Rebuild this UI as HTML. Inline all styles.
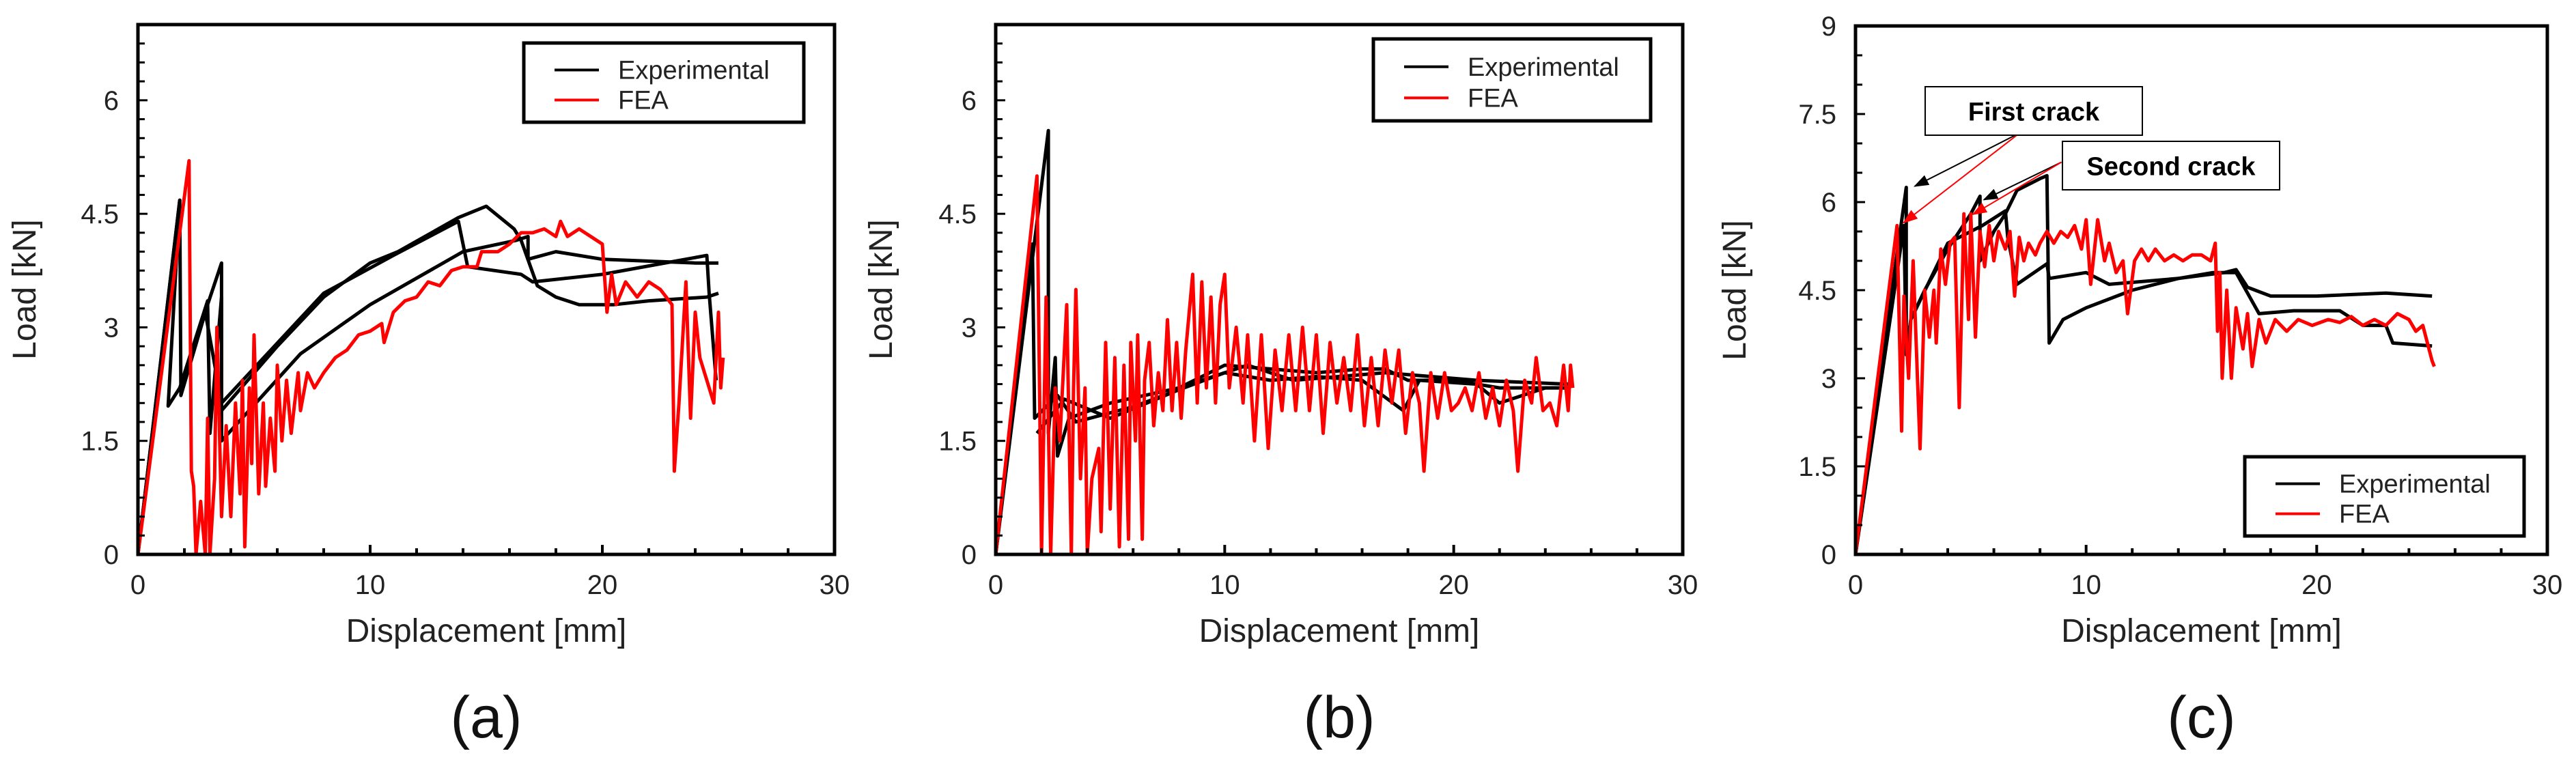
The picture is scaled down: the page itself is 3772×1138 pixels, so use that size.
<!DOCTYPE html>
<html><head><meta charset="utf-8"><style>
html,body{margin:0;padding:0;background:#fff;}
svg{display:block;font-family:"Liberation Sans",sans-serif;}
</style></head><body>
<svg id="fig" width="3772" height="1138" viewBox="0 0 3772 1138"></svg>
<script>
// ---------- Panel (a) data ----------
const aExp1 = [[0,0],[1.8,4.68],[1.85,2.1],[3.0,3.3],[3.6,3.85],[3.6,1.9],[6,2.75],[8,3.4],[10,3.85],[11.2,4.0],[13.8,4.45],[15,4.6],[16.2,4.3],[16.5,4.15],[17.2,3.55],[18,3.4],[19,3.3],[20.5,3.3],[22,3.35],[24.5,3.4],[25,3.45]];
const aExp2 = [[0,0],[1.8,4.68],[1.3,1.96],[1.8,2.2],[3.0,3.35],[3.1,1.6],[3.6,3.4],[3.6,1.5],[7,2.65],[10,3.3],[14,4.0],[16.3,4.15],[16.8,4.2],[16.8,3.9],[18,4.0],[20,3.9],[24,3.85],[25,3.85]];
const aExp3 = [[1.9,2.2],[2.9,3.2],[3.6,2.0],[8,3.45],[11,3.95],[13.8,4.4],[14.2,3.8],[16.5,3.7],[17,3.6],[20,3.7],[24.5,3.95],[24.6,3.45],[24.9,2.3]];
const aFea = [[0,0],[2.2,5.2],[2.3,1.1],[2.4,0.9],[2.5,0],[2.7,0.7],[2.9,0],[3.0,1.8],[3.1,0],[3.3,1.0],[3.4,3.0],[3.6,0.5],[3.8,1.7],[4.0,0.5],[4.2,2.0],[4.4,0.8],[4.5,2.3],[4.6,0.1],[4.8,2.2],[4.9,1.2],[5.0,2.9],[5.2,0.8],[5.4,2.0],[5.5,0.9],[5.7,1.8],[5.9,1.1],[6.0,2.5],[6.2,1.5],[6.4,2.3],[6.6,1.6],[6.9,2.4],[7.0,1.9],[7.3,2.4],[7.6,2.2],[8,2.4],[8.5,2.6],[9,2.7],[9.5,2.9],[10,2.95],[10.5,3.05],[10.6,2.8],[11,3.2],[11.5,3.35],[12,3.4],[12.5,3.6],[13,3.55],[13.5,3.75],[14,3.8],[14.6,3.8],[14.8,4.0],[15.5,4.0],[16,4.1],[16.5,4.25],[17,4.25],[17.5,4.3],[18,4.2],[18.2,4.4],[18.5,4.2],[19,4.3],[19.5,4.2],[20,4.1],[20.2,3.2],[20.4,3.7],[20.6,3.3],[21,3.6],[21.5,3.4],[22,3.6],[22.5,3.5],[23,3.3],[23.1,1.1],[23.3,2.0],[23.6,3.6],[23.8,1.8],[24,3.2],[24.2,2.6],[24.5,2.3],[24.8,2.0],[25,3.2],[25.1,2.2],[25.2,2.6]];
// ---------- Panel (b) data ----------
const bExp1 = [[0,0],[2.3,5.6],[2.3,1.6],[2.6,2.6],[2.7,1.3],[3.2,1.8],[5,2.0],[8,2.2],[10,2.5],[12,2.45],[14,2.4],[16,2.45],[17,2.45],[18,2.3],[20,2.3],[22,2.2],[25,2.2]];
const bExp2 = [[0,0],[1.6,4.1],[1.7,1.8],[2.7,2.1],[3.5,1.75],[6,1.95],[10,2.4],[12,2.3],[14,2.35],[16,2.3],[17.8,1.9],[18.5,2.3],[21,2.25],[22,2.0],[24,2.2],[25,2.2]];
const bExp3 = [[1.8,1.6],[3,2.05],[5,1.8],[9,2.3],[11,2.5],[13,2.3],[17,2.4],[21,2.3],[25,2.25]];
const bFea = [[0,0],[1.8,5.0],[2.0,0],[2.2,3.4],[2.4,0],[2.6,2.2],[2.8,1.5],[3.1,3.3],[3.3,0],[3.4,2.2],[3.5,3.5],[3.7,1.0],[3.9,2.2],[4.0,0],[4.2,1.0],[4.5,1.4],[4.6,0.3],[4.8,2.8],[5.0,0.6],[5.2,2.6],[5.4,0.1],[5.6,2.5],[5.8,0.2],[5.9,2.8],[6.1,1.5],[6.2,2.9],[6.4,0.2],[6.5,2.3],[6.7,2.8],[6.9,1.7],[7.1,2.4],[7.3,1.9],[7.5,3.1],[7.7,1.9],[7.9,2.8],[8.1,1.8],[8.3,2.7],[8.6,3.7],[8.8,2.0],[9.0,3.6],[9.2,2.2],[9.4,3.4],[9.6,2.0],[9.8,3.3],[10.0,3.7],[10.2,2.2],[10.5,3.0],[10.8,2.0],[11.0,2.9],[11.3,1.5],[11.6,2.9],[11.9,1.4],[12.2,2.7],[12.5,1.9],[12.8,2.9],[13.1,1.9],[13.4,3.0],[13.7,1.9],[14.0,2.9],[14.3,1.6],[14.6,2.8],[14.9,2.0],[15.2,2.6],[15.5,1.9],[15.8,2.9],[16.1,1.7],[16.4,2.6],[16.7,1.7],[17.0,2.7],[17.3,2.0],[17.6,2.7],[17.9,1.6],[18.2,2.4],[18.5,2.0],[18.7,1.1],[19.0,2.4],[19.3,1.8],[19.6,2.4],[19.9,1.9],[20.2,2.0],[20.5,2.2],[20.8,1.9],[21.1,2.4],[21.4,1.8],[21.7,2.2],[22.0,1.7],[22.3,2.3],[22.6,1.9],[22.8,1.1],[23.1,2.3],[23.4,2.0],[23.6,2.6],[23.9,1.9],[24.2,2.0],[24.5,1.7],[24.8,2.5],[25,1.9],[25.1,2.5],[25.2,2.2]];
// ---------- Panel (c) data ----------
const cExp1 = [[0,0],[2.2,6.25],[2.2,3.4],[2.4,4.0],[3.0,4.5],[4.0,5.2],[5.0,5.8],[5.4,6.1],[5.4,5.0],[6.0,5.5],[6.5,5.8],[7.0,6.2],[8.0,6.4],[8.3,6.45],[8.4,3.6],[9,4.0],[10,4.2],[12,4.5],[14,4.7],[16,4.8],[16.5,4.85],[17,4.55],[18,4.4],[20,4.4],[23,4.45],[25,4.4]];
const cExp2 = [[0,0],[2.1,5.6],[2.2,3.4],[2.4,4.0],[4,5.3],[5.5,5.6],[6.5,5.85],[6.6,5.4],[7,4.6],[8.3,4.95],[8.4,4.7],[10,4.8],[11,4.6],[14,4.7],[15.5,4.8],[16.5,4.8],[17.5,4.1],[19,4.15],[21,4.15],[22,3.9],[23,3.9],[23.3,3.6],[25,3.55]];
const cFea = [[0,0],[1.8,5.6],[2.0,2.1],[2.1,4.4],[2.3,3.0],[2.5,5.0],[2.8,1.8],[3.0,4.5],[3.2,3.7],[3.4,4.5],[3.5,3.6],[3.7,5.2],[3.9,4.6],[4.1,5.3],[4.3,5.4],[4.5,2.5],[4.7,5.8],[4.9,4.0],[5.0,5.8],[5.2,3.7],[5.4,5.5],[5.6,4.9],[5.8,5.6],[6.0,5.0],[6.2,5.5],[6.5,5.2],[6.7,5.5],[6.9,4.4],[7.1,5.4],[7.3,5.0],[7.5,5.3],[7.8,5.1],[8.0,5.3],[8.3,5.5],[8.6,5.3],[8.9,5.5],[9.2,5.4],[9.5,5.6],[9.8,5.2],[10.0,5.7],[10.2,4.6],[10.5,5.7],[10.8,5.0],[11.0,5.3],[11.3,4.8],[11.6,5.0],[11.8,4.1],[12.1,5.0],[12.4,5.2],[12.7,5.0],[13.0,5.2],[13.4,5.0],[13.8,5.1],[14.2,5.0],[14.6,5.1],[15.0,5.1],[15.4,5.0],[15.6,5.3],[15.7,3.8],[15.8,4.8],[15.9,3.0],[16.1,4.5],[16.3,3.0],[16.5,4.2],[16.8,3.5],[17.0,4.1],[17.2,3.2],[17.5,4.0],[17.8,3.6],[18.2,4.0],[18.7,3.8],[19.2,4.0],[19.8,3.9],[20.5,4.0],[21.0,3.95],[21.5,4.05],[22,3.9],[22.5,4.0],[23,3.9],[23.5,4.1],[24,4.0],[24.3,3.8],[24.6,3.9],[25,3.3],[25.1,3.2]];
const aYTicks = ["0","1.5","3","4.5","6"];
const cYTicks = ["0","1.5","3","4.5","6","7.5","9"];
const xTicks = ["0","10","20","30"];

const NS="http://www.w3.org/2000/svg";
const svg=document.getElementById('fig');
function mk(tag,attrs,parent){const e=document.createElementNS(NS,tag);for(const k in attrs)e.setAttribute(k,attrs[k]);(parent||svg).appendChild(e);return e;}

function panel(cfg){
  const g=mk('g',{});
  
  
  const L=cfg.L,R=cfg.R,T=cfg.T,B=cfg.B;
  const sx=v=>L+(v/30)*(R-L);
  const sy=v=>B-(v/cfg.ymax)*(B-T);
  const clip='clip-'+cfg.name;
  const cp=mk('clipPath',{id:clip},g);mk('rect',{x:L,y:T,width:R-L,height:B-T},cp);
  cfg.series.forEach(s=>{
    const p=mk('polyline',{points:s.d.map(q=>sx(q[0]).toFixed(1)+','+sy(q[1]).toFixed(1)).join(' '),fill:'none',stroke:s.c,'stroke-width':5,'stroke-linejoin':'round','clip-path':'url(#'+clip+')'},g);
    
    
  });
  const fr=mk('rect',{x:L,y:T,width:R-L,height:B-T,fill:'none',stroke:'#000','stroke-width':5},g);
  
  
  for(let v=0;v<=30;v+=2){mk('line',{x1:sx(v),x2:sx(v),y1:B,y2:B-(v%10==0?14:9),stroke:'#000','stroke-width':4},g);}
  for(let v=0;v<=cfg.ymax+1e-9;v+=cfg.ystep){const big=Math.abs((v/1.5)-Math.round(v/1.5))<1e-6;mk('line',{x1:L,x2:L+(big?14:10),y1:sy(v),y2:sy(v),stroke:'#000','stroke-width':3},g);}
  xTicks.forEach(t=>{const e=mk('text',{x:sx(+t),y:B+58,'text-anchor':'middle','font-size':40,fill:'#222'},g);e.textContent=t;
    });
  cfg.yt.forEach(t=>{const e=mk('text',{x:L-28,y:sy(+t)+14,'text-anchor':'end','font-size':40,fill:'#222'},g);e.textContent=t;
    });
  let e=mk('text',{x:(L+R)/2,y:B+128,'text-anchor':'middle','font-size':48,fill:'#222'},g);e.textContent='Displacement [mm]';
  
  e=mk('text',{x:0,y:0,'text-anchor':'middle','font-size':48,fill:'#222',transform:`translate(${cfg.ytx},${(T+B)/2}) rotate(-90)`},g);e.textContent='Load [kN]';
  
  e=mk('text',{x:(L+R)/2,y:1080,'text-anchor':'middle','font-size':86,fill:'#111'},g);e.textContent=cfg.label;
  
  const lg=mk('g',{},g);
  
  
  const [lx,ly,lw,lh]=cfg.leg;
  mk('rect',{x:lx,y:ly,width:lw,height:lh,fill:'#fff',stroke:'#000','stroke-width':5},lg);
  mk('line',{x1:lx+45,x2:lx+110,y1:ly+lh*0.34,y2:ly+lh*0.34,stroke:'#000','stroke-width':4},lg);
  mk('line',{x1:lx+45,x2:lx+110,y1:ly+lh*0.72,y2:ly+lh*0.72,stroke:'#f00','stroke-width':4},lg);
  e=mk('text',{x:lx+138,y:ly+lh*0.34+13,'font-size':38,fill:'#222'},lg);e.textContent='Experimental';
  
  e=mk('text',{x:lx+138,y:ly+lh*0.72+13,'font-size':38,fill:'#222'},lg);e.textContent='FEA';
  
  return {sx,sy,g};
}

panel({name:'panel-a',L:202,R:1222,T:36,B:812,ymax:7,ystep:0.25,yt:aYTicks,ytx:52,label:'(a)',leg:[767,63,410,116],
  series:[{d:aExp1,c:'#000',n:'experimental-curve-1'},{d:aExp2,c:'#000',n:'experimental-curve-2'},{d:aExp3,c:'#000',n:'experimental-curve-3'},{d:aFea,c:'#f00',n:'fea-curve'}]});
panel({name:'panel-b',L:1458,R:2464,T:36,B:812,ymax:7,ystep:0.25,yt:aYTicks,ytx:1306,label:'(b)',leg:[2011,57,406,120],
  series:[{d:bExp1,c:'#000',n:'experimental-curve-1'},{d:bExp2,c:'#000',n:'experimental-curve-2'},{d:bExp3,c:'#000',n:'experimental-curve-3'},{d:bFea,c:'#f00',n:'fea-curve'}]});
const pc=panel({name:'panel-c',L:2717,R:3730,T:38,B:812,ymax:9,ystep:0.5,yt:cYTicks,ytx:2556,label:'(c)',leg:[3287,669,409,116],
  series:[{d:cExp1,c:'#000',n:'experimental-curve-1'},{d:cExp2,c:'#000',n:'experimental-curve-2'},{d:cFea,c:'#f00',n:'fea-curve'}]});

const defs=mk('defs',{});
['k','r'].forEach(c=>{const m=mk('marker',{id:'ar-'+c,markerWidth:22,markerHeight:16,refX:20,refY:8,orient:'auto',markerUnits:'userSpaceOnUse'},defs);
  mk('path',{d:'M0,0 L22,8 L0,16 z',fill:c=='k'?'#000':'#f00'},m);});
const annFirst=[[7.13,7.18],[2.57,6.27],[2.09,5.65]];
const annSecond=[[8.93,6.68],[5.57,6.04],[5.09,5.79]];
function ann(a,name){
  const g=mk('g',{});
  
  
  mk('line',{x1:pc.sx(a[0][0]),y1:pc.sy(a[0][1]),x2:pc.sx(a[1][0]),y2:pc.sy(a[1][1]),stroke:'#000','stroke-width':2,'marker-end':'url(#ar-k)'},g);
  mk('line',{x1:pc.sx(a[0][0]),y1:pc.sy(a[0][1]),x2:pc.sx(a[2][0]),y2:pc.sy(a[2][1]),stroke:'#f00','stroke-width':2,'marker-end':'url(#ar-r)'},g);
}
ann(annFirst,'first-crack-arrows');
ann(annSecond,'second-crack-arrows');
function box(x,y,w,h,txt,name){
  const g=mk('g',{});
  
  
  mk('rect',{x,y,width:w,height:h,fill:'#fff',stroke:'#000','stroke-width':2},g);
  const t=mk('text',{x:x+w/2,y:y+h/2+14,'text-anchor':'middle','font-size':38,'font-weight':'bold',fill:'#000'},g);t.textContent=txt;
}
box(2819,127,318,71,'First crack','first-crack-label');
box(3020,207,318,71,'Second crack','second-crack-label');
</script>
</body></html>
